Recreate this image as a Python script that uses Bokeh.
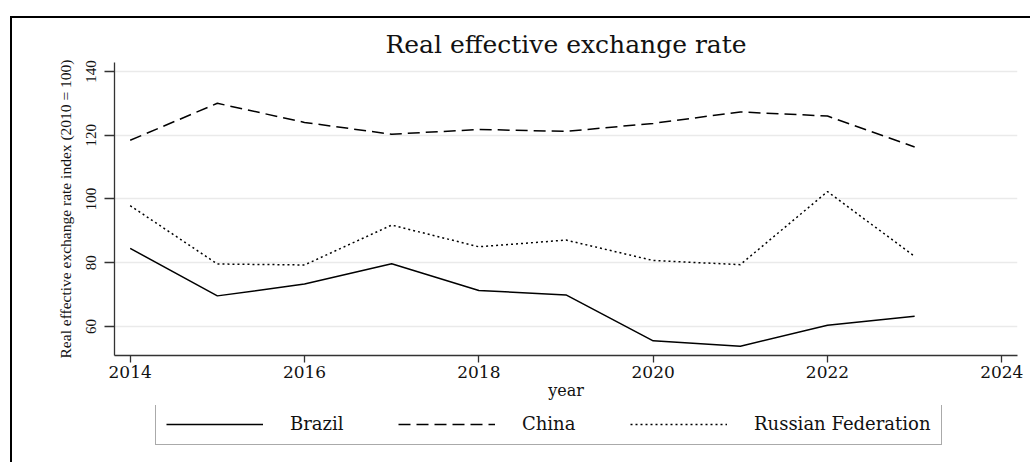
from bokeh.plotting import figure
from bokeh.layouts import column
from bokeh.models import Legend, LegendItem, FixedTicker, Range1d, Title
from bokeh.embed import file_html
from bokeh.resources import INLINE

years = [2014, 2015, 2016, 2017, 2018, 2019, 2020, 2021, 2022, 2023]
brazil = [84.5, 69.6, 73.3, 79.7, 71.3, 69.9, 55.5, 53.8, 60.4, 63.2]
china = [118.4, 130.0, 124.0, 120.3, 121.8, 121.2, 123.7, 127.3, 126.0, 116.3]
russia = [97.9, 79.6, 79.3, 91.8, 85.0, 87.1, 80.7, 79.4, 102.3, 82.0]
series_names = ["Brazil", "China", "Russian Federation"]
x_ticks = [2014, 2016, 2018, 2020, 2022, 2024]
y_ticks = [60, 80, 100, 120, 140]

SERIF_H = "DejaVu Serif"
SERIF_V = "Liberation Serif"
series = [(brazil, None), (china, "12 6"), (russia, "2 3")]

# ---- main chart ----
p = figure(width=1018, height=387, output_backend="svg", toolbar_location=None,
           x_range=Range1d(2013.82, 2024.18), y_range=Range1d(50.9, 142.8),
           min_border_left=102, min_border_top=44, min_border_right=13, min_border_bottom=50)

p.title = Title(text="Real effective exchange rate", align="center",
                text_font=SERIF_H, text_font_size="25px", text_font_style="normal",
                text_color="#111111", standoff=7)

p.outline_line_color = None
p.background_fill_color = "white"
p.border_fill_color = "white"

p.xgrid.grid_line_color = None
p.ygrid.grid_line_color = "#eaeaea"
p.ygrid.grid_line_width = 1.5

p.xaxis.ticker = FixedTicker(ticks=x_ticks)
p.yaxis.ticker = FixedTicker(ticks=y_ticks)
for ax in (p.xaxis, p.yaxis):
    ax.axis_line_color = "#333333"
    ax.axis_line_width = 1.3
    ax.major_tick_line_color = "#333333"
    ax.major_tick_line_width = 1.3
    ax.minor_tick_line_color = None
    ax.major_tick_in = 0
    ax.major_label_text_color = "#111111"
    ax.axis_label_text_color = "#111111"
    ax.axis_label_text_font_style = "normal"

p.xaxis.major_tick_out = 7
p.xaxis.major_label_standoff = 3
p.xaxis.major_label_text_font = SERIF_H
p.xaxis.major_label_text_font_size = "17px"
p.xaxis.axis_label = "year"
p.xaxis.axis_label_text_font = SERIF_H
p.xaxis.axis_label_text_font_size = "16px"
p.xaxis.axis_label_standoff = 0

p.yaxis.major_tick_out = 10
p.yaxis.major_label_orientation = "vertical"
p.yaxis.major_label_standoff = 8
p.yaxis.major_label_text_font = SERIF_V
p.yaxis.major_label_text_font_size = "15px"
p.yaxis.axis_label = "Real effective exchange rate index (2010 = 100)"
p.yaxis.axis_label_text_font = SERIF_V
p.yaxis.axis_label_text_font_size = "15.5px"
p.yaxis.axis_label_standoff = 10

for vals, dash in series:
    p.line(years, vals, line_color="black", line_width=1.5,
           line_dash=dash if dash else "solid")

# ---- legend strip (lines lie outside its view; only the legend shows) ----
pl = figure(width=1018, height=57, output_backend="svg", toolbar_location=None,
            x_range=Range1d(0, 1), y_range=Range1d(0, 1),
            x_axis_type=None, y_axis_type=None, min_border=0)
pl.outline_line_color = None
pl.grid.grid_line_color = None
pl.background_fill_color = "white"
pl.border_fill_color = "white"

leg_renderers = []
for vals, dash in series:
    leg_renderers.append(pl.line(years, vals, line_color="black", line_width=1.5,
                                 line_dash=dash if dash else "solid"))

legend = Legend(items=[LegendItem(label=n, renderers=[r]) for n, r in zip(series_names, leg_renderers)],
                orientation="horizontal", location=(41, 17),
                glyph_width=97, glyph_height=20, label_standoff=27, spacing=28,
                label_width=80, padding=10, margin=0,
                label_text_font=SERIF_H, label_text_font_size="18px",
                label_text_color="#111111",
                border_line_color="#555555", border_line_width=1.5,
                background_fill_color="white")
pl.add_layout(legend, "center")

layout = column(p, pl, spacing=0, margin=(16, 0, 0, 10),
                styles={"border-left": "2px solid black", "border-top": "2px solid black"})

open("out.html", "w").write(file_html(layout, INLINE))
